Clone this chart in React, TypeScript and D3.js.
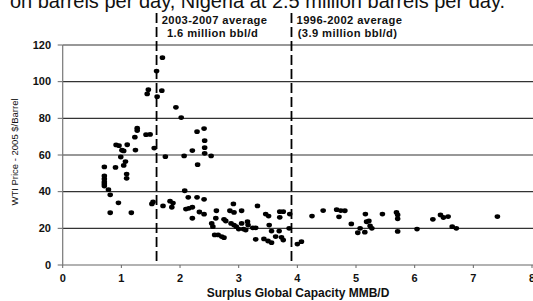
import * as d3 from "d3";

const W = 533;
const H = 301;

// surplus capacity (MMB/D) vs WTI price (2005 $/bbl)
const capacity: number[] = [
  0.71, 0.71, 0.71, 0.71, 0.71, 0.71, 0.78, 0.81, 0.81, 0.9, 0.91, 0.96, 0.95, 0.99, 1.01, 1.04, 1.04, 1.07,
  1.09, 1.09, 1.1, 1.17, 1.23, 1.24, 1.27, 1.27, 1.42, 1.49, 1.44, 1.46, 1.52, 1.54, 1.56,
  1.6, 1.7, 1.69, 1.61, 1.93, 2.02, 1.75, 1.71, 1.83, 1.88, 1.86, 2.07, 2.21, 2.29, 2.41, 2.42, 2.42, 2.42,
  2.53, 2.3, 2.08, 2.14, 2.29, 2.41, 2.1, 2.15, 2.21, 2.21, 2.33, 2.41, 2.54, 2.56, 2.59, 2.65, 2.71, 2.75,
  2.62, 2.61, 2.75, 2.78, 2.85, 2.92, 2.91, 2.87, 2.92, 2.96, 3.0, 3.05, 3.05, 3.08, 3.12, 3.15, 3.16, 3.24,
  3.29, 3.32, 3.29, 3.43, 3.5, 3.56, 3.46, 3.51, 3.52, 3.56, 3.63, 3.69, 3.7, 3.76, 3.7, 3.73, 3.76, 3.86, 3.87,
  4.0, 4.07, 4.25, 4.44, 4.67, 4.74, 4.81, 4.71, 4.92, 5.03, 5.07, 5.15, 5.16, 5.18, 5.22, 5.24, 5.27, 5.45,
  5.69, 5.71, 5.71, 5.71, 6.04, 6.31, 6.44, 6.49, 6.57, 6.64, 6.71, 7.41,
];
const price: number[] = [
  53.5, 48.6, 46.9, 45.3, 44.2, 43.1, 41.1, 38.3, 28.5, 53.2, 65.5, 65.1, 33.9, 58.9, 62.6, 62.2, 54.3, 56.4,
  49.6, 47.3, 65.6, 28.5, 69.7, 62.7, 74.6, 73.3, 71.1, 71.2, 93.3, 95.6, 33.3, 34.4, 63.8,
  105.8, 113.1, 95.1, 91.8, 86.0, 80.4, 59.1, 32.2, 34.8, 33.8, 31.5, 59.5, 62.4, 72.7, 74.4, 67.8, 64.0, 60.9,
  59.5, 54.7, 40.5, 36.9, 36.9, 35.8, 30.5, 30.9, 31.5, 25.5, 28.9, 27.7, 22.7, 20.9, 16.4, 16.4, 15.5, 14.9,
  29.6, 25.5, 24.9, 24.0, 29.6, 28.7, 33.3, 22.7, 21.8, 20.9, 19.6, 29.6, 22.7, 19.6, 19.1, 23.6, 21.8, 20.3,
  20.3, 32.2, 14.0, 14.2, 13.1, 12.2, 27.8, 26.7, 21.8, 18.5, 15.5, 18.5, 29.1, 29.1, 26.0, 15.1, 13.6, 20.0, 27.8,
  11.4, 12.7, 26.7, 29.7, 30.2, 29.7, 29.6, 26.3, 22.4, 17.6, 20.0, 17.9, 27.8, 23.6, 24.0, 21.3, 20.0, 27.8,
  28.7, 27.3, 25.2, 18.3, 19.6, 24.9, 27.3, 25.9, 26.4, 20.9, 20.0, 26.4,
];

const xTicks = [0, 1, 2, 3, 4, 5, 6, 7, 8];
const yTicks = [0, 20, 40, 60, 80, 100, 120];
const averages = [
  { at: 1.6, lines: ["2003-2007 average", "1.6 million bbl/d"] },
  { at: 3.9, lines: ["1996-2002 average", "(3.9 million bbl/d)"] },
];

export default function App() {
  const x = d3.scaleLinear().domain([0, 8]).range([62.7, 532]);
  const y = d3.scaleLinear().domain([0, 120]).range([265, 45]);
  const font = "Arial, 'Liberation Sans', sans-serif";
  const pts = capacity.map((c, i) => ({ c, p: price[i] }));

  return (
    <svg
      width={W}
      height={H}
      style={{ position: "absolute", left: 0, top: 0, background: "#fff" }}
      fontFamily={font}
    >
      <text x={505} y={8} fontSize={20} textAnchor="end" fill="#111">
        on barrels per day, Nigeria at 2.5 million barrels per day.
      </text>

      {yTicks.map((t) => (
        <g key={t}>
          <line x1={x(0)} x2={W} y1={y(t)} y2={y(t)} stroke={t === 0 ? "#666" : "#333"} strokeWidth={1.1} />
          <line x1={x(0) - 5} x2={x(0)} y1={y(t)} y2={y(t)} stroke="#666" />
          <text x={51} y={y(t) + 3.8} fontSize={11} fontWeight="bold" textAnchor="end" fill="#111">
            {t}
          </text>
        </g>
      ))}
      <line x1={x(0)} x2={x(0)} y1={y(120)} y2={y(0)} stroke="#777" strokeWidth={1.2} />

      {xTicks.map((t) => (
        <g key={t}>
          <line x1={x(t)} x2={x(t)} y1={y(0)} y2={y(0) + 3} stroke="#666" />
          <text x={x(t)} y={282} fontSize={11} fontWeight="bold" textAnchor="middle" fill="#111">
            {t}
          </text>
        </g>
      ))}

      {averages.map((a) => (
        <g key={a.at}>
          <line
            x1={x(a.at)}
            x2={x(a.at)}
            y1={13}
            y2={y(0)}
            stroke="#000"
            strokeWidth={1.8}
            strokeDasharray="10 4"
          />
          <text fontSize={11.2} fontWeight="bold" fill="#111" textAnchor="middle" letterSpacing={0.4}>
            <tspan x={x(a.at) + 58} y={24}>
              {a.lines[0]}
            </tspan>
            <tspan x={x(a.at) + 56} y={37}>
              {a.lines[1]}
            </tspan>
          </text>
        </g>
      ))}

      {pts.map((d, i) => (
        <ellipse key={i} cx={x(d.c)} cy={y(d.p)} rx={2.8} ry={2.4} fill="#000" />
      ))}

      <text x={298} y={297} fontSize={12} fontWeight="bold" textAnchor="middle" fill="#111">
        Surplus Global Capacity MMB/D
      </text>
      <text
        transform={`translate(18,${y(60) - 3}) rotate(-90)`}
        fontSize={9.5}
        textAnchor="middle"
        fill="#111"
      >
        WTI Price - 2005 $/Barrel
      </text>
    </svg>
  );
}
